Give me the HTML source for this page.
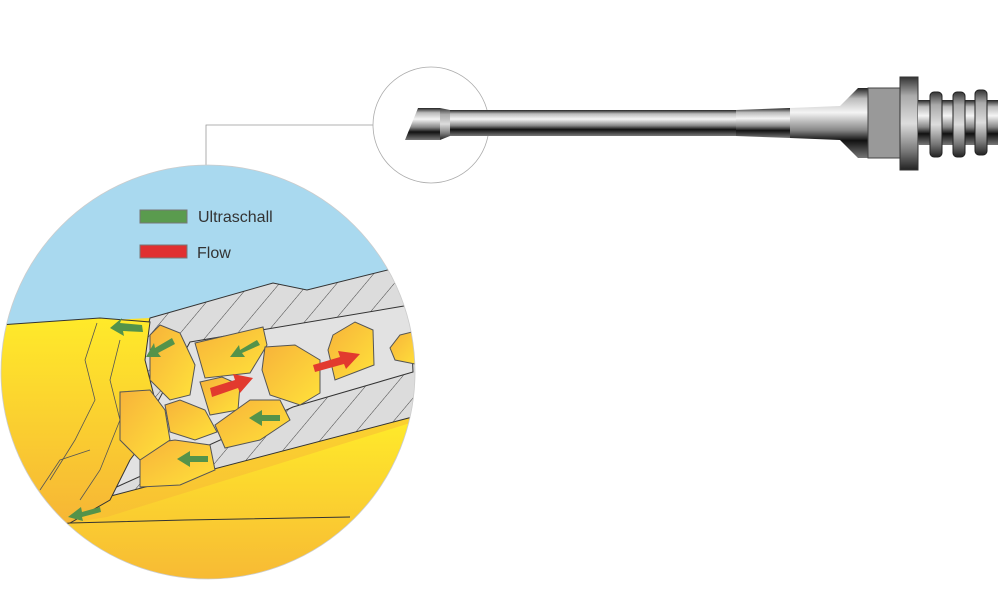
<!DOCTYPE html>
<html><head><style>body{margin:0;background:#fff}svg{display:block}</style></head><body>
<svg width="1000" height="600" viewBox="0 0 1000 600" xmlns="http://www.w3.org/2000/svg">
<defs>
<clipPath id="c"><circle cx="208" cy="372" r="207"/></clipPath>
<linearGradient id="y" x1="0" y1="0" x2="0" y2="1"><stop offset="0" stop-color="#ffea2a"/><stop offset="1" stop-color="#f6b436"/></linearGradient>
<linearGradient id="p" x1="0" y1="0" x2="1" y2="1"><stop offset="0" stop-color="#f7b23a"/><stop offset="1" stop-color="#ffe23a"/></linearGradient>
<linearGradient id="m" x1="0" y1="0" x2="0" y2="1"><stop offset="0" stop-color="#222"/><stop offset=".15" stop-color="#bbb"/><stop offset=".35" stop-color="#f4f4f4"/><stop offset=".6" stop-color="#888"/><stop offset=".75" stop-color="#111"/><stop offset="1" stop-color="#777"/></linearGradient>
<linearGradient id="h" x1="0" y1="0" x2="0" y2="1"><stop offset="0" stop-color="#333"/><stop offset=".2" stop-color="#aaa"/><stop offset=".5" stop-color="#ddd"/><stop offset=".8" stop-color="#777"/><stop offset="1" stop-color="#222"/></linearGradient>
<pattern id="hat" width="22" height="22" patternUnits="userSpaceOnUse" patternTransform="rotate(40)"><rect width="22" height="22" fill="#dcdcdc"/><line x1="0" y1="0" x2="0" y2="22" stroke="#444" stroke-width="1"/></pattern>
</defs>
<polyline points="206,165 206,125 373,125" fill="none" stroke="#999" stroke-width="0.8"/>
<circle cx="431" cy="125" r="58" fill="none" stroke="#aaa" stroke-width="0.8"/>
<g clip-path="url(#c)">
<rect x="0" y="160" width="420" height="425" fill="#a9d9ef"/>
<polygon points="0,325 150,318 273,283 307,290 420,265 420,600 0,600" fill="url(#y)"/>
<polygon points="150,318 273,283 307,290 420,262 420,415 107,497 115,470" fill="url(#hat)" stroke="#333" stroke-width="1"/>
<polygon points="190,342 410,305 413,372 293,407 110,490" fill="#e2e2e2" stroke="#333"/>
<polygon points="0,525 70,523 107,517 420,420 420,600 0,600" fill="url(#y)"/>
<polyline points="70,523 185,520 350,517" fill="none" stroke="#333"/>
<polygon points="0,325 100,318 150,322 145,360 160,420 130,460 110,500 70,523 0,530" fill="url(#y)" stroke="#333"/>
<g fill="none" stroke="#555" stroke-width="0.8"><polyline points="97,323 85,360 95,400 75,440 50,480"/><polyline points="120,340 110,380 120,420 100,470 80,500"/><polyline points="40,490 60,460 90,450"/></g>
<g stroke="#555" stroke-width="1" fill="url(#p)">
<polygon points="150,335 160,325 180,333 195,365 190,395 170,400 150,380"/>
<polygon points="195,343 263,327 267,345 250,373 205,378"/>
<polygon points="265,347 295,345 320,360 320,393 300,405 270,395 262,370"/>
<polygon points="333,335 355,322 373,330 374,365 335,380 328,350"/>
<polygon points="200,382 222,377 240,385 238,410 210,415"/>
<polygon points="165,405 180,400 205,410 217,432 195,440 170,432"/>
<polygon points="215,425 250,400 280,400 290,420 260,440 225,448"/>
<polygon points="140,445 175,440 210,445 215,470 180,485 140,487"/>
<polygon points="120,392 150,390 165,410 170,440 140,460 120,440"/>
<polygon points="400,335 420,330 420,365 395,360 390,348"/>
</g>
<g fill="#54934a">
<polygon points="142,325 120,323 122,318 110,328 124,336 123,331 143,332"/>
<polygon points="172,338 155,348 154,343 146,357 161,357 158,353 175,344"/>
<polygon points="257,340 240,350 239,345 230,357 245,357 242,353 260,345"/>
<polygon points="280,415 262,415 262,410 249,418 262,426 262,421 280,421"/>
<polygon points="208,456 190,456 190,451 177,459 190,467 190,462 208,462"/>
<polygon points="100,507 82,512 81,507 68,517 83,521 82,517 101,512"/>
</g>
<g fill="#e23a2e">
<polygon points="210,388 235,380 233,374 253,378 240,393 238,388 212,397"/>
<polygon points="313,365 340,357 338,351 360,354 346,369 344,364 315,372"/>
</g>
<rect x="140" y="210" width="47" height="13" fill="#5a9b4e" stroke="#777"/>
<rect x="140" y="245" width="47" height="13" fill="#e03030" stroke="#777"/>
<text x="198" y="222" font-family="Liberation Sans, sans-serif" font-size="16" fill="#333">Ultraschall</text>
<text x="197" y="258" font-family="Liberation Sans, sans-serif" font-size="16" fill="#333">Flow</text>
</g>
<circle cx="208" cy="372" r="207" fill="none" stroke="#ccc" stroke-width="0.8"/>
<polygon points="405,140 418,108 440,108 440,140" fill="url(#m)"/>
<polygon points="440,108 450,110 450,136 440,140" fill="url(#h)"/>
<rect x="450" y="110" width="286" height="26" fill="url(#m)"/>
<polygon points="736,110 790,108 790,138 736,136" fill="url(#m)"/>
<polygon points="790,108 840,106 858,88 870,88 870,158 858,158 840,140 790,138" fill="url(#m)"/>
<rect x="868" y="88" width="34" height="70" fill="#999" stroke="#444"/>
<rect x="900" y="77" width="18" height="93" fill="url(#h)" stroke="#333"/>
<rect x="918" y="100" width="80" height="45" fill="url(#m)"/>
<g fill="url(#h)" stroke="#222"><rect x="930" y="92" width="12" height="65" rx="4"/><rect x="953" y="92" width="12" height="65" rx="4"/><rect x="975" y="90" width="12" height="65" rx="4"/></g>
</svg>
</body></html>
